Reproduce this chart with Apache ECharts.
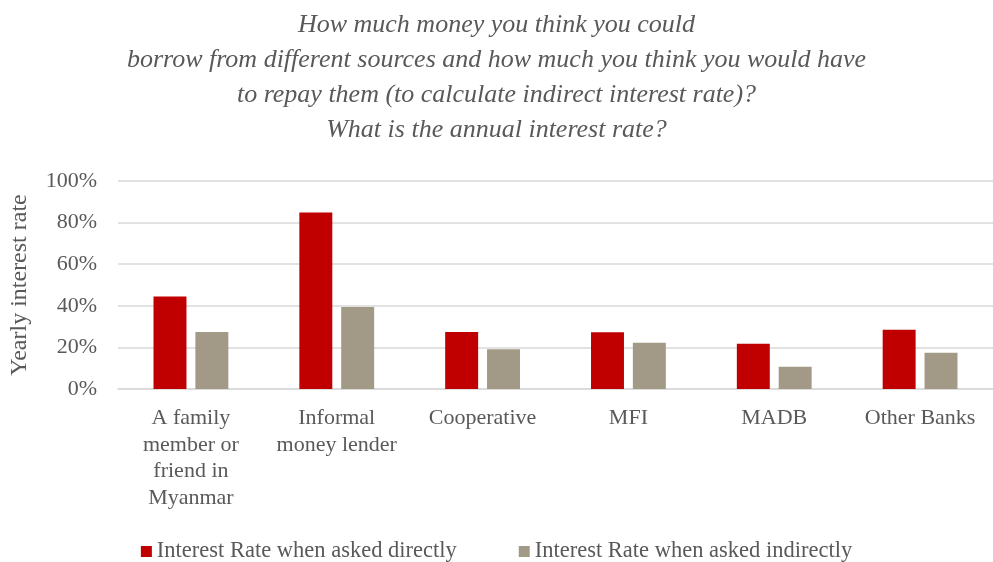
<!DOCTYPE html>
<html>
<head>
<meta charset="utf-8">
<style>
  html, body { margin: 0; padding: 0; background: #fff; }
  #chart { width: 993px; height: 562px; }
</style>
<script src="https://cdn.jsdelivr.net/npm/echarts@6/dist/echarts.min.js"></script>
</head>
<body>
<div id="chart"></div>
<script>
// Borrowing sources and the yearly interest rates reported for each
const categories = [
  'A family\nmember or\nfriend in\nMyanmar',
  'Informal\nmoney lender',
  'Cooperative',
  'MFI',
  'MADB',
  'Other Banks'
];
const askedDirectly = [44.5, 84.8, 27.4, 27.3, 21.7, 28.5];
const askedIndirectly = [27.4, 39.4, 19.1, 22.2, 10.7, 17.4];
const yTicks = [0, 20, 40, 60, 80, 100];

const serif = '"Liberation Serif", "DejaVu Serif", serif';
const textGrey = '#595959';

const chart = echarts.init(document.getElementById('chart'));
chart.setOption({
  animation: false,
  title: {
    text: 'How much money you think you could\nborrow from different sources and how much you think you would have\nto repay them (to calculate indirect interest rate)?\nWhat is the annual interest rate?',
    left: 'center',
    top: 3,
    textStyle: {
      fontFamily: serif,
      fontStyle: 'italic',
      fontWeight: 'normal',
      fontSize: 26,
      lineHeight: 35,
      color: textGrey
    }
  },
  legend: {
    top: 535,
    left: 'center',
    itemWidth: 11,
    itemHeight: 11,
    itemGap: 62,
    icon: 'rect',
    textStyle: { fontFamily: serif, fontSize: 22.5, color: textGrey }
  },
  grid: { left: 117, right: 0, top: 181, bottom: 173 },
  xAxis: {
    type: 'category',
    data: categories,
    axisTick: { show: false },
    axisLine: { lineStyle: { color: '#D9D9D9', width: 1.5 } },
    axisLabel: {
      fontFamily: serif,
      fontSize: 22,
      lineHeight: 26.5,
      color: textGrey,
      margin: 16,
      interval: 0
    }
  },
  yAxis: {
    type: 'value',
    min: yTicks[0],
    max: yTicks[yTicks.length - 1],
    interval: 20,
    name: 'Yearly interest rate',
    nameLocation: 'middle',
    nameGap: 86,
    nameTextStyle: { fontFamily: serif, fontSize: 24, color: textGrey },
    axisLabel: {
      formatter: '{value}%',
      fontFamily: serif,
      fontSize: 22,
      color: textGrey,
      margin: 21
    },
    splitLine: { lineStyle: { color: '#D9D9D9', width: 1.5 } }
  },
  series: [
    {
      name: 'Interest Rate when asked directly',
      type: 'bar',
      data: askedDirectly,
      barWidth: '22.6%',
      barGap: '27%',
      itemStyle: { color: '#C00000' }
    },
    {
      name: 'Interest Rate when asked indirectly',
      type: 'bar',
      data: askedIndirectly,
      barWidth: '22.6%',
      itemStyle: { color: '#A29A86' }
    }
  ]
});
</script>
</body>
</html>
